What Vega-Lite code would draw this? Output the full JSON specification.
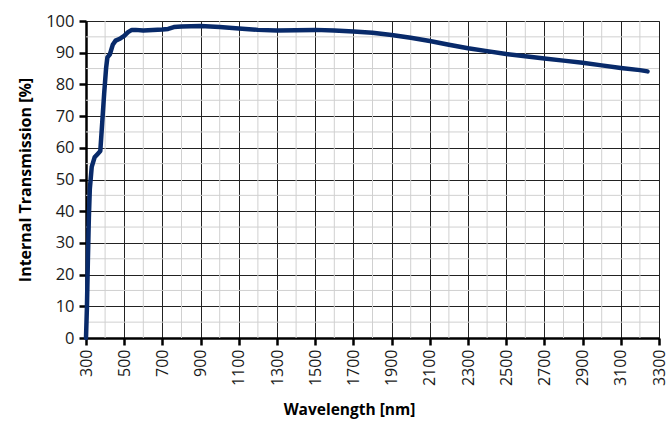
{
  "$schema": "https://vega.github.io/schema/vega-lite/v6.json",
  "autosize": {"type": "none"},
  "width": 573,
  "height": 317,
  "padding": {"left": 86, "top": 21, "right": 13, "bottom": 85},
  "background": "white",
  "config": {
    "view": {"stroke": "#808080", "strokeWidth": 1},
    "font": "Open Sans",
    "axisX": {
      "format": "d",
      "labelOverlap": false,
      "labelFlush": false,
      "labelAngle": -90,
      "labelFontSize": 16,
      "labelColor": "#1a1a1a",
      "labelPadding": 4,
      "grid": true,
      "gridColor": "#222222",
      "gridWidth": 1,
      "domainColor": "#000000",
      "domainWidth": 2.5,
      "tickColor": "#000000",
      "tickWidth": 2.5,
      "tickSize": 7,
      "titleFontSize": 15.5,
      "titleFontWeight": "bold",
      "titleColor": "#000000",
      "titlePadding": 17,
      "titleX": 263
    },
    "axisY": {
      "format": "d",
      "labelOverlap": false,
      "labelFlush": false,
      "labelFontSize": 16.5,
      "labelColor": "#1a1a1a",
      "labelPadding": 5,
      "grid": true,
      "gridColor": "#222222",
      "gridWidth": 1,
      "domainColor": "#000000",
      "domainWidth": 2.5,
      "tickColor": "#000000",
      "tickWidth": 2.5,
      "tickSize": 7,
      "titleFontSize": 16,
      "titleFontWeight": "bold",
      "titleColor": "#000000",
      "titlePadding": 12
    }
  },
  "datasets": {
    "curve": [
      {"wl": 300, "t": 0}, {"wl": 305, "t": 10}, {"wl": 310, "t": 25}, {"wl": 315, "t": 38},
      {"wl": 320, "t": 47}, {"wl": 330, "t": 54}, {"wl": 345, "t": 57}, {"wl": 360, "t": 58},
      {"wl": 375, "t": 59}, {"wl": 385, "t": 68}, {"wl": 395, "t": 77}, {"wl": 405, "t": 85},
      {"wl": 412, "t": 88.5}, {"wl": 425, "t": 89.5}, {"wl": 440, "t": 92.5}, {"wl": 455, "t": 93.8},
      {"wl": 480, "t": 94.5}, {"wl": 500, "t": 95.3}, {"wl": 520, "t": 96.5}, {"wl": 540, "t": 97.2},
      {"wl": 560, "t": 97.2}, {"wl": 600, "t": 97.0}, {"wl": 700, "t": 97.3}, {"wl": 730, "t": 97.5},
      {"wl": 760, "t": 98.1}, {"wl": 800, "t": 98.3}, {"wl": 900, "t": 98.4}, {"wl": 1000, "t": 98.1},
      {"wl": 1100, "t": 97.6}, {"wl": 1200, "t": 97.2}, {"wl": 1300, "t": 97.0}, {"wl": 1400, "t": 97.1},
      {"wl": 1500, "t": 97.2}, {"wl": 1600, "t": 97.0}, {"wl": 1700, "t": 96.7}, {"wl": 1800, "t": 96.3},
      {"wl": 1900, "t": 95.6}, {"wl": 2000, "t": 94.7}, {"wl": 2100, "t": 93.7}, {"wl": 2200, "t": 92.5},
      {"wl": 2300, "t": 91.4}, {"wl": 2400, "t": 90.5}, {"wl": 2500, "t": 89.6}, {"wl": 2600, "t": 88.9},
      {"wl": 2700, "t": 88.2}, {"wl": 2800, "t": 87.5}, {"wl": 2900, "t": 86.8}, {"wl": 3000, "t": 86.0},
      {"wl": 3100, "t": 85.2}, {"wl": 3200, "t": 84.5}, {"wl": 3240, "t": 84.1}
    ],
    "minorX": [
      {"v": 400}, {"v": 600}, {"v": 800}, {"v": 1000}, {"v": 1200}, {"v": 1400}, {"v": 1600},
      {"v": 1800}, {"v": 2000}, {"v": 2200}, {"v": 2400}, {"v": 2600}, {"v": 2800}, {"v": 3000}, {"v": 3200}
    ],
    "minorY": [
      {"v": 5}, {"v": 15}, {"v": 25}, {"v": 35}, {"v": 45}, {"v": 55}, {"v": 65}, {"v": 75}, {"v": 85}, {"v": 95}
    ]
  },
  "layer": [
    {
      "data": {"name": "minorX"},
      "mark": {"type": "rule", "color": "#d0d0d0", "strokeWidth": 1},
      "encoding": {
        "x": {"field": "v", "type": "quantitative", "scale": {"domain": [300, 3300], "nice": false, "zero": false},
              "axis": {"title": "Wavelength [nm]", "values": [300, 500, 700, 900, 1100, 1300, 1500, 1700, 1900, 2100, 2300, 2500, 2700, 2900, 3100, 3300]}}
      }
    },
    {
      "data": {"name": "minorY"},
      "mark": {"type": "rule", "color": "#d0d0d0", "strokeWidth": 1},
      "encoding": {
        "y": {"field": "v", "type": "quantitative", "scale": {"domain": [0, 100], "nice": false},
              "axis": {"title": "Internal Transmission  [%]", "values": [0, 10, 20, 30, 40, 50, 60, 70, 80, 90, 100]}}
      }
    },
    {
      "data": {"name": "curve"},
      "mark": {"type": "line", "color": "#082a6a", "strokeWidth": 4.5, "strokeJoin": "round", "strokeCap": "round"},
      "encoding": {
        "x": {"field": "wl", "type": "quantitative", "scale": {"domain": [300, 3300], "nice": false, "zero": false},
              "axis": {"title": "Wavelength [nm]", "values": [300, 500, 700, 900, 1100, 1300, 1500, 1700, 1900, 2100, 2300, 2500, 2700, 2900, 3100, 3300]}},
        "y": {"field": "t", "type": "quantitative", "scale": {"domain": [0, 100], "nice": false},
              "axis": {"title": "Internal Transmission  [%]", "values": [0, 10, 20, 30, 40, 50, 60, 70, 80, 90, 100]}}
      }
    }
  ]
}
